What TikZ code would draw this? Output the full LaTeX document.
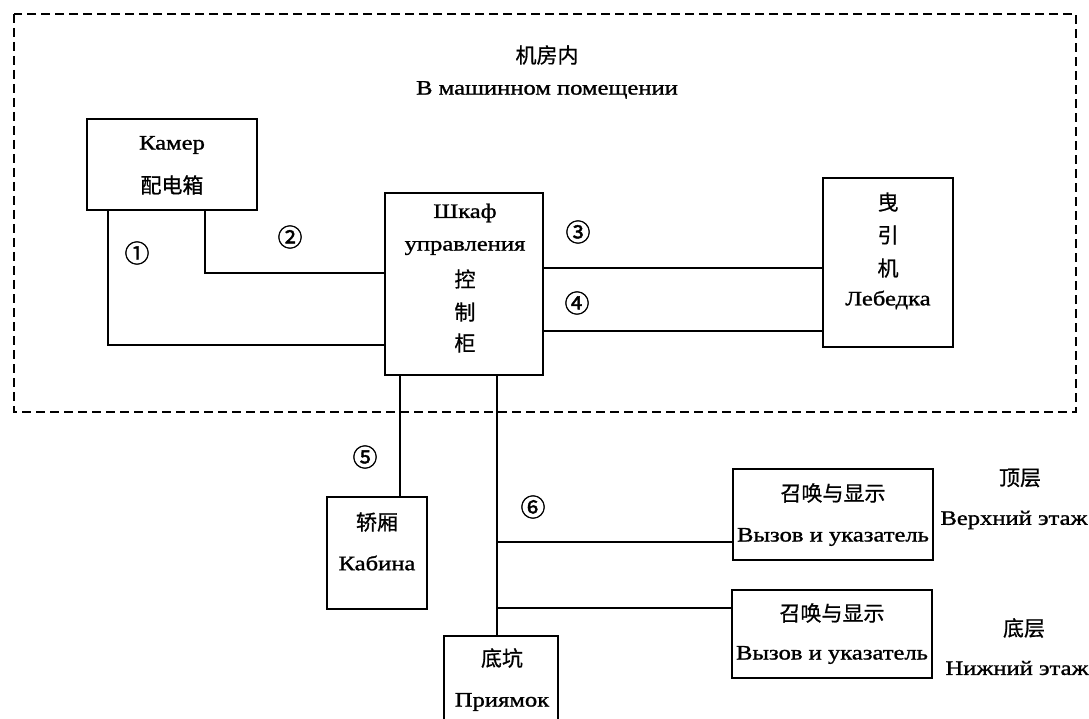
\documentclass[tikz,border=0pt]{standalone}
\usepackage{fontspec}
\setmainfont{Liberation Serif}[FakeStretch=1.2, FakeBold=1.2]
\newfontfamily\cjk{Noto Sans CJK SC}[FakeBold=0.8]
\newfontfamily\circfont{Noto Sans CJK SC}[FakeBold=1.5]
\usetikzlibrary{calc}
\tikzset{
  box/.style={draw, line width=2.2pt, inner sep=0pt},
  wire/.style={line width=2pt},
  ru/.style={font=\fontsize{20.5}{22}\selectfont, inner sep=0pt},
  zh/.style={font=\cjk\fontsize{21}{23}\selectfont, inner sep=0pt},
  num/.style={font=\circfont\fontsize{25}{27}\selectfont, inner sep=0pt},
}
\begin{document}
\begin{tikzpicture}[x=1pt,y=-1pt]
\useasboundingbox (0,0) rectangle (1089,719);
% outer dashed region
\draw[line width=2.4pt, dash pattern=on 9pt off 5pt] (14,14) rectangle (1076,412);
\node[zh] (t1) at (547,55) {机房内};
\node[ru] (t2) at (547,90) {В машинном помещении};
% boxes
\node[box, minimum width=170pt, minimum height=91pt] (kamer) at (172,164.5) {};
\node[box, minimum width=158pt, minimum height=182pt] (cab) at (464,284) {};
\node[box, minimum width=130pt, minimum height=169pt] (winch) at (888,262.5) {};
\node[box, minimum width=100pt, minimum height=112pt] (cabin) at (377,553) {};
\node[box, minimum width=114pt, minimum height=96pt] (pit) at (501,684) {};
\node[box, minimum width=200pt, minimum height=91pt] (call1) at (833,514.5) {};
\node[box, minimum width=200pt, minimum height=88pt] (call2) at (832,634) {};
% box texts
\node[ru] (k1) at (172,145) {Камер};
\node[zh] (k2) at (172,185) {配电箱};
\node[ru] (c1) at (465,213) {Шкаф};
\node[ru] (c2) at (465,248) {управления};
\node[zh] (c3) at (465,279) {控};
\node[zh] (c4) at (465,312) {制};
\node[zh] (c5) at (465,343) {柜};
\node[zh] (w1) at (888,202) {曳};
\node[zh] (w2) at (888,235) {引};
\node[zh] (w3) at (888,268) {机};
\node[ru] (w4) at (888,300) {Лебедка};
\node[zh] (cb1) at (377,522) {轿厢};
\node[ru] (cb2) at (377,563) {Кабина};
\node[zh] (p1) at (502,658) {底坑};
\node[ru] (p2) at (502,702) {Приямок};
\node[zh] (u1) at (833,493) {召唤与显示};
\node[ru] (u2) at (833,537) {Вызов и указатель};
\node[zh] (d1) at (832,613) {召唤与显示};
\node[ru] (d2) at (832,655) {Вызов и указатель};
\node[zh] (s1) at (1020,478) {顶层};
\node[ru] (s2) at (1014,520) {Верхний этаж};
\node[zh] (s3) at (1024,628) {底层};
\node[ru] (s4) at (1017,668) {Нижний этаж};
% numbers
\node[num] (n1) at (137,253) {①};
\node[num] (n2) at (290,237) {②};
\node[num] (n3) at (578,232) {③};
\node[num] (n4) at (577,303) {④};
\node[num] (n5) at (365,457) {⑤};
\node[num] (n6) at (533,507) {⑥};
% bend coordinates
\coordinate (b1) at (108,345);
\coordinate (b2) at (205,273);
\coordinate (l3) at (700,268);
\coordinate (l4) at (700,331);
\coordinate (l5) at (400,440);
\coordinate (l6) at (497,440);
\coordinate (l6a) at (497,542);
\coordinate (l6b) at (497,608);
% connectors
\draw[wire] (kamer.south -| b1) -- (b1) -- (cab.west |- b1);
\draw[wire] (kamer.south -| b2) -- (b2) -- (cab.west |- b2);
\draw[wire] (cab.east |- l3) -- (winch.west |- l3);
\draw[wire] (cab.east |- l4) -- (winch.west |- l4);
\draw[wire] (cab.south -| l5) -- (cabin.north -| l5);
\draw[wire] (cab.south -| l6) -- (pit.north -| l6);
\draw[wire] (l6a) -- (call1.west |- l6a);
\draw[wire] (l6b) -- (call2.west |- l6b);
\end{tikzpicture}
\end{document}
